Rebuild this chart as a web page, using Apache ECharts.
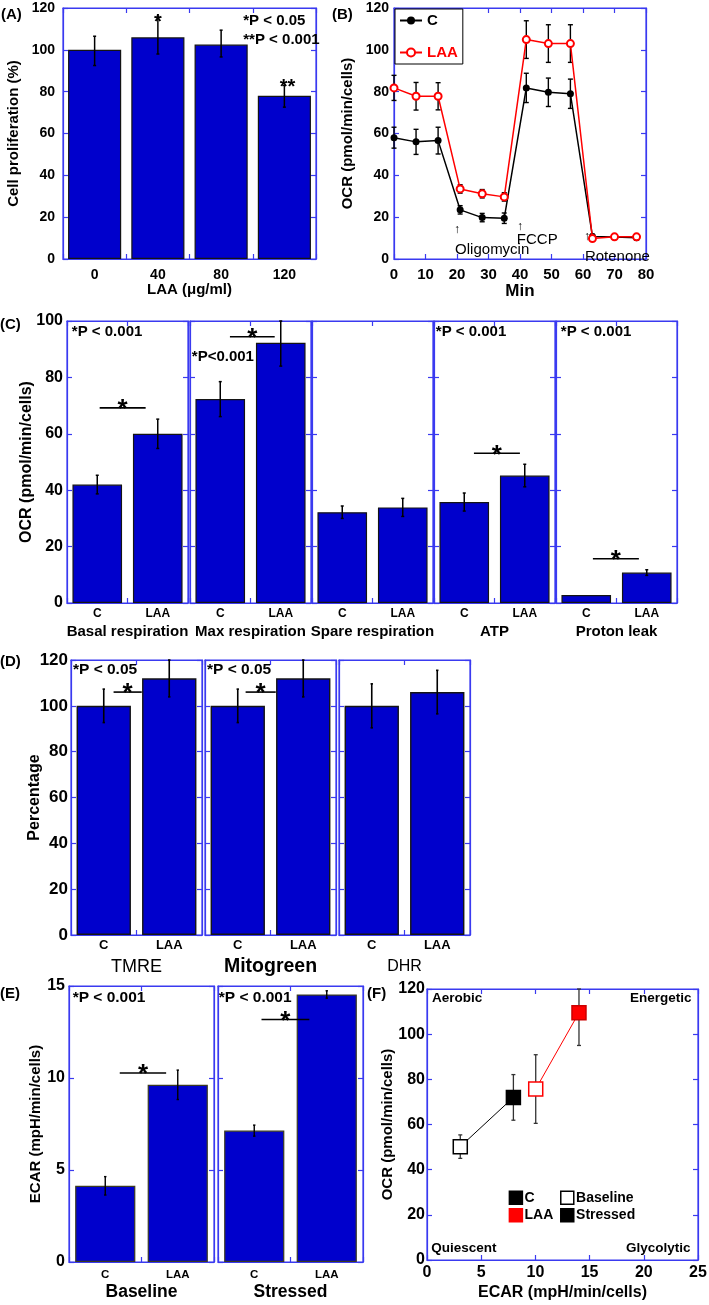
<!DOCTYPE html>
<html><head><meta charset="utf-8">
<script src="https://cdn.jsdelivr.net/npm/echarts@6/dist/echarts.min.js"></script>
<style>html,body{margin:0;padding:0;background:#fff}#c{width:709px;height:1305px}</style>
</head><body><div id="c"></div>
<script>
// ================= DATA =================
// (A) cell proliferation
const A_categories = ['0', '40', '80', '120'];
const A_values = [100, 106, 102.5, 78];
const A_errLow = [92.5, 98, 96.6, 72.6];
const A_errHigh = [106.5, 116, 109.4, 83];

// (B) OCR time course
const B_minutes = [0, 7, 14, 21, 28, 35, 42, 49, 56, 63, 70, 77];
const B_C = [58, 56, 56.6, 23.5, 19.8, 19.5, 81.8, 79.7, 79, 10.8, 10.5, 10.2];
const B_C_err = [5, 6, 6.4, 2, 2, 2.5, 7, 6.8, 7, 1, 1, 1];
const B_LAA = [81.8, 77.8, 77.8, 33.5, 31.2, 29.7, 104.9, 103, 103, 9.8, 10.6, 10.6];
const B_LAA_err = [6, 6.6, 6.5, 2, 2, 2, 9, 9, 9, 1, 1, 1];

// (C) respiration parameters
const C_groups = ['Basal respiration', 'Max respiration', 'Spare respiration', 'ATP', 'Proton leak'];
const C_categories = ['C', 'LAA'];
const C_ctrl = [42, 72.3, 32.2, 35.8, 2.8];
const C_ctrlErr = [3.3, 6.2, 2.2, 3.2, 0];
const C_laa = [60, 92.3, 33.9, 45.2, 10.8];
const C_laaErr = [5.2, 8.3, 3.2, 4, 1];

// (D) mitochondrial dyes
const D_groups = ['TMRE', 'Mitogreen', 'DHR'];
const D_categories = ['C', 'LAA'];
const D_ctrl = [100, 100, 100];
const D_ctrlErr = [7.3, 7.3, 9.6];
const D_laa = [112, 112, 106];
const D_laaErr = [8.1, 8.1, 9.5];

// (E) ECAR
const E_groups = ['Baseline', 'Stressed'];
const E_categories = ['C', 'LAA'];
const E_ctrl = [4.14, 7.14];
const E_ctrlErr = [0.5, 0.3];
const E_laa = [9.63, 14.54];
const E_laaErr = [0.8, 0.2];

// (F) energy map
const F_C_ecar = [3.07, 7.97];
const F_C_ocr = [50.2, 72];
const F_C_err = [5.2, 10.1];
const F_LAA_ecar = [10.03, 14.02];
const F_LAA_ocr = [75.7, 109.5];
const F_LAA_err = [15.2, 14.5];

// ================= STYLE / LAYOUT =================
const FONT = '"Liberation Sans", Arial, Helvetica, sans-serif';
const FRAME = '#3a3af0';
const BAR = '#0000cc';
const BAR_EDGE = '#141414';

const grids = [], xAxis = [], yAxis = [], series = [];
const lab = (fs, weight) => ({fontFamily: FONT, fontWeight: weight || 'bold', fontSize: fs, color: '#000'});
const fontStr = (fs, weight) => (weight || 'bold') + ' ' + fs + 'px ' + FONT;

function makeGrid(left, top, width, height) {
  grids.push({left, top, width, height, show: true, borderColor: FRAME, borderWidth: 1.2,
    backgroundColor: 'rgba(0,0,0,0)', containLabel: false, outerBoundsMode: 'none'});
  return grids.length - 1;
}
function axisCommon(gi, c) {
  const o = {gridIndex: gi, type: c.type || 'value',
    axisLine: {show: true, onZero: false, lineStyle: {color: FRAME, width: 1.2}},
    axisTick: {show: true, inside: true, length: 5, lineStyle: {color: FRAME, width: 1.2}},
    splitLine: {show: false}};
  if (o.type === 'category') { o.data = c.data; o.boundaryGap = true; }
  else { o.min = c.min; o.max = c.max; o.interval = c.interval; }
  return o;
}
function addX(gi, c) {
  const common = axisCommon(gi, c);
  xAxis.push(Object.assign({}, common, {position: 'bottom',
    axisLabel: Object.assign({show: true, margin: c.margin, interval: 0}, lab(c.fs)),
    name: c.name || '', nameLocation: 'middle', nameGap: c.nameGap || 20, nameMoveOverlap: false,
    nameTextStyle: lab(c.nameFs || 15, c.nameWeight)}));
  const idx = xAxis.length - 1;
  xAxis.push(Object.assign({}, common, {position: 'top', axisLabel: {show: false}}));
  return idx;
}
function addY(gi, c) {
  const common = axisCommon(gi, c);
  yAxis.push(Object.assign({}, common, {position: 'left',
    axisLabel: Object.assign({show: !!c.labels, margin: c.margin || 4}, lab(c.fs || 14)),
    name: c.name || '', nameLocation: 'middle', nameGap: c.nameGap || 30, nameRotate: 90, nameMoveOverlap: false,
    nameTextStyle: lab(c.nameFs || 15)}));
  const idx = yAxis.length - 1;
  yAxis.push(Object.assign({}, common, {position: 'right', axisLabel: {show: false}}));
  return idx;
}
function errSeries(xi, yi, rows, capHalf, color, lw, z) {
  return {type: 'custom', xAxisIndex: xi, yAxisIndex: yi, z: z || 4, silent: true, clip: false,
    data: rows,
    renderItem(params, api) {
      const x = api.value(0);
      const p0 = api.coord([x, api.value(1)]);
      const p1 = api.coord([x, api.value(2)]);
      const st = {stroke: color, lineWidth: lw};
      return {type: 'group', children: [
        {type: 'line', shape: {x1: p0[0], y1: p0[1], x2: p1[0], y2: p1[1]}, style: st},
        {type: 'line', shape: {x1: p0[0] - capHalf, y1: p0[1], x2: p0[0] + capHalf, y2: p0[1]}, style: st},
        {type: 'line', shape: {x1: p1[0] - capHalf, y1: p1[1], x2: p1[0] + capHalf, y2: p1[1]}, style: st}]};
    }};
}
function starText(x, glyphY, fs, text) {
  return {type: 'text', x: x, y: glyphY + 0.24 * fs,
    style: {text: text, fill: '#000', font: fontStr(fs), align: 'center', verticalAlign: 'middle',
      textAlign: 'center', textVerticalAlign: 'middle'}};
}
function overlay(xi, yi, items, isCat) {
  return {type: 'custom', xAxisIndex: xi, yAxisIndex: yi, z: 6, silent: true, clip: false,
    data: items.map(it => [isCat ? 0 : it.x, it.y]),
    renderItem(params, api) {
      const it = items[params.dataIndex];
      const p = api.coord([isCat ? 0 : it.x, it.y]);
      const bw = isCat ? api.size([1, 0])[0] : 0;
      const px = p[0] + (isCat ? (it.u || 0) * bw : 0);
      const py = p[1];
      if (it.kind === 'star') return starText(px, py, it.fs || 20, it.text || '*');
      if (it.kind === 'sig') {
        const x0 = p[0] + it.u0 * bw, x1 = p[0] + it.u1 * bw;
        return {type: 'group', children: [
          {type: 'line', shape: {x1: x0, y1: py, x2: x1, y2: py}, style: {stroke: '#000', lineWidth: 1.6}},
          starText((x0 + x1) / 2, py - 4, 26, '*')]};
      }
      if (it.kind === 'square') {
        return {type: 'rect', shape: {x: px - 6.5, y: py - 6.5, width: 13, height: 13},
          style: {fill: it.fill, stroke: it.stroke, lineWidth: 1.5}};
      }
      const al = it.align || 'left';
      return {type: 'text', x: px, y: py,
        style: {text: it.text, fill: it.color || '#000', font: fontStr(it.fs || 15, it.weight),
          align: al, verticalAlign: 'middle', textAlign: al, textVerticalAlign: 'middle'}};
    }};
}
function clipRows(vals, errs, lo, hi) {
  return vals.map((v, i) => [i, Math.max(lo, v - errs[i]), Math.min(hi, v + errs[i])]);
}

// ================= PANEL A =================
const A_notes = [
  {kind: 'text', u: 2.35, y: 113.8, text: '*P < 0.05', fs: 15},
  {kind: 'text', u: 2.35, y: 104.8, text: '**P < 0.001', fs: 15},
  {kind: 'star', u: 1, y: 115.6, text: '*', fs: 20},
  {kind: 'star', u: 3.05, y: 84.3, text: '**', fs: 20}
];
{
  const gi = makeGrid(63, 8, 253, 251);
  const xi = addX(gi, {type: 'category', data: A_categories, fs: 14, margin: 9, name: 'LAA (μg/ml)', nameGap: 23, nameFs: 15});
  const yi = addY(gi, {min: 0, max: 120, interval: 20, fs: 14, margin: 8, labels: true, name: 'Cell proliferation (%)', nameGap: 42, nameFs: 15});
  series.push({type: 'bar', xAxisIndex: xi, yAxisIndex: yi, data: A_values, barWidth: '84%', z: 2,
    itemStyle: {color: BAR, borderColor: BAR_EDGE, borderWidth: 1.2}});
  series.push(errSeries(xi, yi, A_values.map((v, i) => [i, A_errLow[i], A_errHigh[i]]), 1.5, '#000', 1.5));
  series.push(overlay(xi, yi, A_notes, true));
}

// ================= PANEL B =================
const B_notes = [
  {x: 20, y: 14, text: '↑', fs: 12, weight: 'normal', align: 'center'},
  {x: 19.4, y: 4.4, text: 'Oligomycin', fs: 15, weight: 'normal'},
  {x: 40, y: 15.6, text: '↑', fs: 12, weight: 'normal', align: 'center'},
  {x: 39, y: 9.2, text: 'FCCP', fs: 15, weight: 'normal'},
  {x: 61.3, y: 10.6, text: '↑', fs: 12, weight: 'normal', align: 'center'},
  {x: 60.6, y: 1.1, text: 'Rotenone', fs: 15, weight: 'normal'}
];
{
  const gi = makeGrid(394, 8, 252, 251);
  const xi = addX(gi, {min: 0, max: 80, interval: 10, fs: 15, margin: 8, name: 'Min', nameGap: 24, nameFs: 17});
  const yi = addY(gi, {min: 0, max: 120, interval: 20, fs: 14, margin: 5, labels: true, name: 'OCR (pmol/min/cells)', nameGap: 39, nameFs: 15});
  series.push(errSeries(xi, yi, B_minutes.map((m, i) => [m, B_C[i] - B_C_err[i], B_C[i] + B_C_err[i]]), 2.5, '#000', 1.4, 3));
  series.push(errSeries(xi, yi, B_minutes.map((m, i) => [m, B_LAA[i] - B_LAA_err[i], B_LAA[i] + B_LAA_err[i]]), 2.5, '#000', 1.4, 3));
  series.push({name: 'C', type: 'line', xAxisIndex: xi, yAxisIndex: yi, z: 4,
    data: B_minutes.map((m, i) => [m, B_C[i]]), symbol: 'circle', symbolSize: 7,
    itemStyle: {color: '#000'}, lineStyle: {color: '#000', width: 1.5}});
  series.push({name: 'LAA', type: 'line', xAxisIndex: xi, yAxisIndex: yi, z: 5,
    data: B_minutes.map((m, i) => [m, B_LAA[i]]), symbol: 'emptyCircle', symbolSize: 7,
    itemStyle: {color: '#ff0000', borderColor: '#ff0000', borderWidth: 1.3}, lineStyle: {color: '#ff0000', width: 1.5}});
  series.push(overlay(xi, yi, B_notes, false));
}

// ================= PANEL C =================
const C_lefts = [67, 190, 312, 434, 556];
const C_notes = [
  [{u: -0.42, y: 96, text: '*P < 0.001', fs: 15}, {kind: 'sig', u0: 0.04, u1: 0.8, y: 69.2}],
  [{u: -0.47, y: 87.4, text: '*P<0.001', fs: 15}, {kind: 'sig', u0: 0.16, u1: 0.9, y: 94.4}],
  [],
  [{u: -0.47, y: 96, text: '*P < 0.001', fs: 15}, {kind: 'sig', u0: 0.16, u1: 0.92, y: 53.1}],
  [{u: -0.42, y: 96, text: '*P < 0.001', fs: 15}, {kind: 'sig', u0: 0.11, u1: 0.87, y: 15.7}]
];
C_groups.forEach((g, k) => {
  const gi = makeGrid(C_lefts[k], 321, 121, 282);
  const xi = addX(gi, {type: 'category', data: C_categories, fs: 12, margin: 5, name: g, nameGap: 21, nameFs: 15});
  const yi = addY(gi, {min: 0, max: 100, interval: 20, fs: 16, margin: 4, labels: k === 0,
    name: k === 0 ? 'OCR (pmol/min/cells)' : '', nameGap: 32, nameFs: 16});
  const vals = [C_ctrl[k], C_laa[k]], errs = [C_ctrlErr[k], C_laaErr[k]];
  series.push({type: 'bar', xAxisIndex: xi, yAxisIndex: yi, data: vals, barWidth: '82%', z: 2,
    itemStyle: {color: BAR, borderColor: BAR_EDGE, borderWidth: 1.2}});
  series.push(errSeries(xi, yi, clipRows(vals, errs, 0, 100).filter((r, i) => errs[i] > 0), 1.5, '#000', 1.5));
  series.push(overlay(xi, yi, C_notes[k], true));
});

// ================= PANEL D =================
const D_lefts = [71, 205, 339];
const D_nameStyle = [{fs: 18, w: 'normal', gap: 23}, {fs: 19.5, w: 'bold', gap: 22}, {fs: 16, w: 'normal', gap: 24}];
const D_notes = [
  [{u: -0.47, y: 115.8, text: '*P < 0.05', fs: 15.5}, {kind: 'sig', u0: 0.15, u1: 0.58, y: 106}],
  [{u: -0.47, y: 115.8, text: '*P < 0.05', fs: 15.5}, {kind: 'sig', u0: 0.12, u1: 0.58, y: 106}],
  []
];
D_groups.forEach((g, k) => {
  const gi = makeGrid(D_lefts[k], 660, 131, 275);
  const ns = D_nameStyle[k];
  const xi = addX(gi, {type: 'category', data: D_categories, fs: 13, margin: 4, name: g, nameGap: ns.gap, nameFs: ns.fs, nameWeight: ns.w});
  const yi = addY(gi, {min: 0, max: 120, interval: 20, fs: 17, margin: 3, labels: k === 0,
    name: k === 0 ? 'Percentage' : '', nameGap: 28, nameFs: 16});
  const vals = [D_ctrl[k], D_laa[k]], errs = [D_ctrlErr[k], D_laaErr[k]];
  series.push({type: 'bar', xAxisIndex: xi, yAxisIndex: yi, data: vals, barWidth: '83%', z: 2,
    itemStyle: {color: BAR, borderColor: BAR_EDGE, borderWidth: 1.4}});
  series.push(errSeries(xi, yi, clipRows(vals, errs, 0, 120), 1.2, '#000', 1.6));
  series.push(overlay(xi, yi, D_notes[k], true));
});

// ================= PANEL E =================
const E_lefts = [69, 218];
const E_notes = [
  [{u: -0.45, y: 14.35, text: '*P < 0.001', fs: 15.5}, {kind: 'sig', u0: 0.2, u1: 0.84, y: 10.27}],
  [{u: -0.49, y: 14.35, text: '*P < 0.001', fs: 15.5}, {kind: 'sig', u0: 0.1, u1: 0.76, y: 13.18}]
];
E_groups.forEach((g, k) => {
  const gi = makeGrid(E_lefts[k], 986, 145, 276);
  const xi = addX(gi, {type: 'category', data: E_categories, fs: 11.5, margin: 7, name: g, nameGap: 21, nameFs: 17.5});
  const yi = addY(gi, {min: 0, max: 15, interval: 5, fs: 16, margin: 4, labels: k === 0,
    name: k === 0 ? 'ECAR (mpH/min/cells)' : '', nameGap: 26, nameFs: 15});
  const vals = [E_ctrl[k], E_laa[k]], errs = [E_ctrlErr[k], E_laaErr[k]];
  series.push({type: 'bar', xAxisIndex: xi, yAxisIndex: yi, data: vals, barWidth: '83%', z: 2,
    itemStyle: {color: BAR, borderColor: '#3a3a20', borderWidth: 1.2}});
  series.push(errSeries(xi, yi, clipRows(vals, errs, 0, 15), 1.2, '#000', 1.4));
  series.push(overlay(xi, yi, E_notes[k], true));
});

// ================= PANEL F =================
const F_notes = [
  {x: 0.46, y: 115.9, text: 'Aerobic', fs: 13.5},
  {x: 24.4, y: 115.9, text: 'Energetic', fs: 13.5, align: 'right'},
  {x: 0.4, y: 5.4, text: 'Quiescent', fs: 13.5},
  {x: 24.3, y: 5.4, text: 'Glycolytic', fs: 13.5, align: 'right'},
  {kind: 'square', x: 8.2, y: 27.6, fill: '#000', stroke: '#000'},
  {x: 9.0, y: 27.6, text: 'C', fs: 14},
  {kind: 'square', x: 12.94, y: 27.6, fill: '#fff', stroke: '#000'},
  {x: 13.75, y: 27.6, text: 'Baseline', fs: 14},
  {kind: 'square', x: 8.2, y: 19.8, fill: '#ff0000', stroke: '#ff0000'},
  {x: 9.0, y: 19.8, text: 'LAA', fs: 14},
  {kind: 'square', x: 12.94, y: 19.8, fill: '#000', stroke: '#000'},
  {x: 13.75, y: 19.8, text: 'Stressed', fs: 14}
];
{
  const gi = makeGrid(427, 989, 271, 271);
  const xi = addX(gi, {min: 0, max: 25, interval: 5, fs: 16, margin: 5, name: 'ECAR (mpH/min/cells)', nameGap: 25, nameFs: 16});
  const yi = addY(gi, {min: 0, max: 120, interval: 20, fs: 16, margin: 2, labels: true, name: 'OCR (pmol/min/cells)', nameGap: 32, nameFs: 15});
  series.push(errSeries(xi, yi, F_C_ecar.map((x, i) => [x, F_C_ocr[i] - F_C_err[i], Math.min(120, F_C_ocr[i] + F_C_err[i])]), 2, '#333', 1.3, 2));
  series.push(errSeries(xi, yi, F_LAA_ecar.map((x, i) => [x, F_LAA_ocr[i] - F_LAA_err[i], Math.min(120, F_LAA_ocr[i] + F_LAA_err[i])]), 2, '#333', 1.3, 2));
  const fill = [['#fff', '#000'], ['#fff', '#ff0000']];
  series.push({name: 'F_C', type: 'line', xAxisIndex: xi, yAxisIndex: yi, z: 4, symbol: 'rect', symbolSize: 14,
    lineStyle: {color: '#000', width: 1},
    data: F_C_ecar.map((x, i) => ({value: [x, F_C_ocr[i]],
      itemStyle: {color: i === 0 ? '#fff' : '#000', borderColor: '#000', borderWidth: 1.5}}))});
  series.push({name: 'F_LAA', type: 'line', xAxisIndex: xi, yAxisIndex: yi, z: 4, symbol: 'rect', symbolSize: 14,
    lineStyle: {color: '#ff0000', width: 1},
    data: F_LAA_ecar.map((x, i) => ({value: [x, F_LAA_ocr[i]],
      itemStyle: {color: i === 0 ? '#fff' : '#ff0000', borderColor: i === 0 ? '#ff0000' : '#cc0000', borderWidth: 1.5}}))});
  series.push(overlay(xi, yi, F_notes, false));
}

// ================= PANEL LABELS =================
const panelLabels = [
  {t: '(A)', l: 1, tp: 7}, {t: '(B)', l: 332, tp: 7}, {t: '(C)', l: 0, tp: 317},
  {t: '(D)', l: 0, tp: 654}, {t: '(E)', l: 0, tp: 986}, {t: '(F)', l: 367, tp: 986}
];

const chart = echarts.init(document.getElementById('c'), null, {renderer: 'canvas'});
chart.setOption({
  animation: false,
  backgroundColor: '#fff',
  grid: grids, xAxis: xAxis, yAxis: yAxis, series: series,
  legend: {left: 395, top: 9, orient: 'vertical', itemGap: 17, itemWidth: 22, itemHeight: 10,
    padding: [4, 5, 4, 4], borderColor: '#000', borderWidth: 1, backgroundColor: '#fff', borderRadius: 0,
    textStyle: {fontFamily: FONT, fontWeight: 'bold', fontSize: 15},
    data: [{name: 'C', textStyle: {color: '#000'}}, {name: 'LAA', textStyle: {color: '#ff0000'}}]},
  graphic: panelLabels.map(p => ({type: 'text', left: p.l, top: p.tp,
    style: {text: p.t, font: fontStr(15), fill: '#000'}}))
});
</script>
</body></html>
